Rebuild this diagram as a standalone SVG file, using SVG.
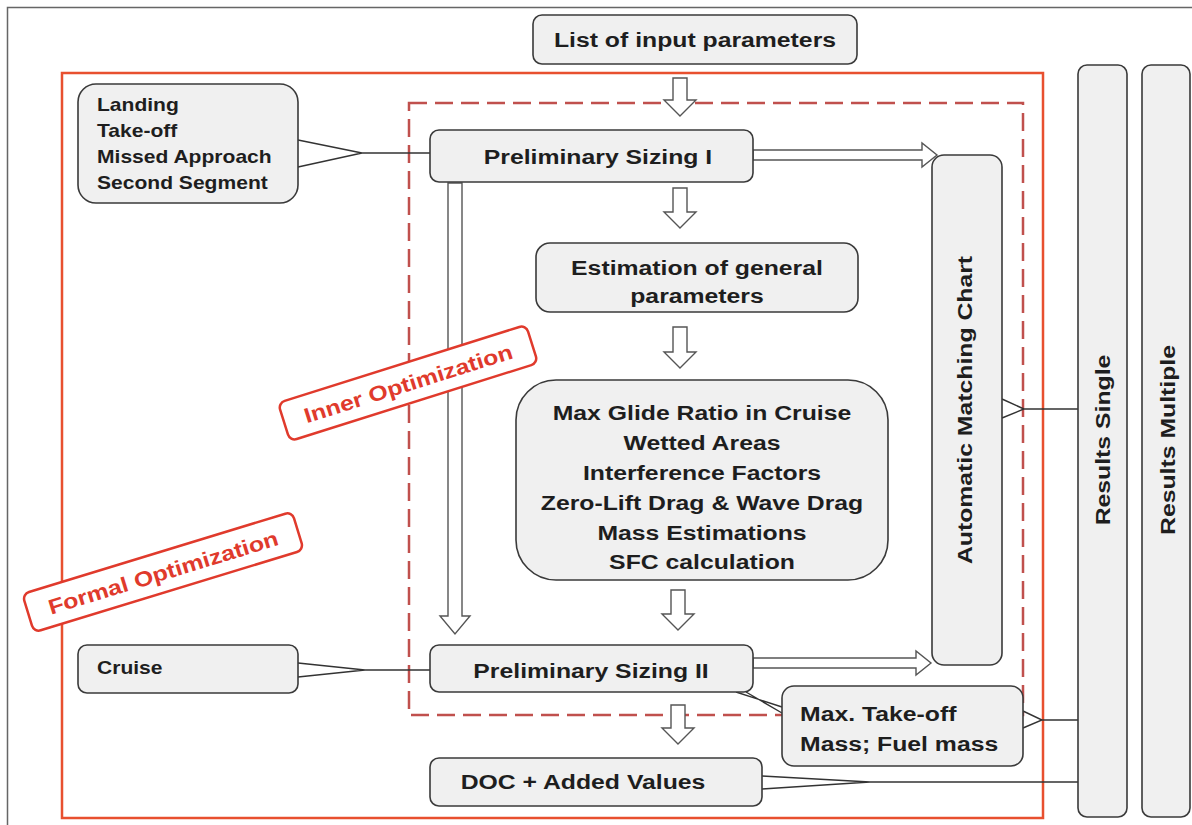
<svg xmlns="http://www.w3.org/2000/svg" width="1192" height="825" viewBox="0 0 1192 825">
<style>
.box{fill:#f0f0f0;stroke:#3a3a3a;stroke-width:1.6}
.t{font-family:"Liberation Sans",Arial,sans-serif;font-weight:bold;font-size:21px;fill:#1e1e1e}
.tl{font-family:"Liberation Sans",Arial,sans-serif;font-weight:bold;font-size:18px;fill:#1e1e1e}
.red{font-family:"Liberation Sans",Arial,sans-serif;font-weight:bold;font-size:21px;fill:#e03a2c}
.harrow{fill:#fff;stroke:#555;stroke-width:1.4}
.con{fill:none;stroke:#333;stroke-width:1.4}
</style>
<rect x="0" y="0" width="1192" height="825" fill="#fff"/>
<rect x="7.5" y="7.5" width="1200" height="840" fill="none" stroke="#666" stroke-width="1.5"/>
<g id="formal-frame">
<rect x="62" y="73" width="981" height="745" fill="none" stroke="#e8502f" stroke-width="2.5"/>
</g>
<g id="inner-frame">
<rect x="409" y="103" width="614" height="612" fill="none" stroke="#c0504d" stroke-width="2.5" stroke-dasharray="18,8"/>
</g>
<g id="connectors">
<path class="harrow" d="M673,78 H687 V100 H696 L680,116 L664,100 H673 Z"/>
<path class="harrow" d="M673,188 H687 V212 H696 L680,228 L664,212 H673 Z"/>
<path class="harrow" d="M673,327 H687 V352 H696 L680,368 L664,352 H673 Z"/>
<path class="harrow" d="M671,590 H685 V614 H694 L678,630 L662,614 H671 Z"/>
<path class="harrow" d="M671,705 H685 V728 H694 L678,744 L662,728 H671 Z"/>
<path class="harrow" d="M448,183 H462 V616 H470 L455,634 L440,616 H448 Z"/>
<path class="harrow" d="M753,150 H922 V143 L937,155 L922,167 V160 H753 Z"/>
<path class="harrow" d="M753,658 H916 V651 L931,663 L916,675 V668 H753 Z"/>
<path class="con" d="M298,140 L362,153 L298,167 M362,153 H452"/>
<path class="con" d="M298,663 L365,670 L298,677 M365,670 H452"/>
<path class="con" d="M1002,399 L1024,409 L1002,418 M1024,409 H1078"/>
<path class="con" d="M1023,711 L1042,720 L1023,728 M1042,720 H1078"/>
<path class="con" d="M762,776 L870,782 L762,789 M870,782 H1078"/>
<path class="con" d="M736,692 L782,707 M746,692 L782,713"/>
</g>
<g id="list-input">
<rect class="box" x="533" y="15" width="324" height="49" rx="9"/>
<text class="t" transform="translate(695,47) scale(1.18,1)" text-anchor="middle">List of input parameters</text>
</g>
<g id="landing">
<rect class="box" x="78" y="84" width="220" height="119" rx="18"/>
<text class="tl" transform="translate(97,111) scale(1.17,1)">Landing</text>
<text class="tl" transform="translate(97,137) scale(1.17,1)">Take-off</text>
<text class="tl" transform="translate(97,163) scale(1.17,1)">Missed Approach</text>
<text class="tl" transform="translate(97,189) scale(1.17,1)">Second Segment</text>
</g>
<g id="prelim-1">
<rect class="box" x="430" y="130" width="323" height="52" rx="9"/>
<text class="t" transform="translate(598,164) scale(1.18,1)" text-anchor="middle">Preliminary Sizing I</text>
</g>
<g id="estimation">
<rect class="box" x="536" y="243" width="322" height="69" rx="14"/>
<text class="t" transform="translate(697,275) scale(1.18,1)" text-anchor="middle">Estimation of general</text>
<text class="t" transform="translate(697,303) scale(1.18,1)" text-anchor="middle">parameters</text>
</g>
<g id="max-glide">
<rect class="box" x="516" y="380" width="372" height="200" rx="40"/>
<text class="t" transform="translate(702,420) scale(1.18,1)" text-anchor="middle">Max Glide Ratio in Cruise</text>
<text class="t" transform="translate(702,450) scale(1.18,1)" text-anchor="middle">Wetted Areas</text>
<text class="t" transform="translate(702,480) scale(1.18,1)" text-anchor="middle">Interference Factors</text>
<text class="t" transform="translate(702,510) scale(1.18,1)" text-anchor="middle">Zero-Lift Drag &amp; Wave Drag</text>
<text class="t" transform="translate(702,540) scale(1.18,1)" text-anchor="middle">Mass Estimations</text>
<text class="t" transform="translate(702,569) scale(1.18,1)" text-anchor="middle">SFC calculation</text>
</g>
<g id="cruise">
<rect class="box" x="78" y="645" width="220" height="48" rx="9"/>
<text class="tl" transform="translate(97,674) scale(1.17,1)">Cruise</text>
</g>
<g id="prelim-2">
<rect class="box" x="430" y="645" width="323" height="47" rx="9"/>
<text class="t" transform="translate(591,678) scale(1.18,1)" text-anchor="middle">Preliminary Sizing II</text>
</g>
<g id="amc">
<rect class="box" x="932" y="155" width="70" height="510" rx="12"/>
<text class="t" transform="translate(972,410) rotate(-90) scale(1.18,1)" text-anchor="middle">Automatic Matching Chart</text>
</g>
<g id="max-takeoff">
<rect class="box" x="782" y="686" width="241" height="80" rx="12"/>
<text class="t" transform="translate(800,721) scale(1.18,1)">Max. Take-off</text>
<text class="t" transform="translate(800,751) scale(1.18,1)">Mass; Fuel mass</text>
</g>
<g id="doc">
<rect class="box" x="430" y="758" width="332" height="48" rx="9"/>
<text class="t" transform="translate(583,789) scale(1.18,1)" text-anchor="middle">DOC + Added Values</text>
</g>
<g id="results-single">
<rect class="box" x="1078" y="65" width="49" height="752" rx="9"/>
<text class="t" transform="translate(1110,440) rotate(-90) scale(1.18,1)" text-anchor="middle">Results Single</text>
</g>
<g id="results-multiple">
<rect class="box" x="1142" y="65" width="48" height="752" rx="9"/>
<text class="t" transform="translate(1175,440) rotate(-90) scale(1.18,1)" text-anchor="middle">Results Multiple</text>
</g>
<g id="inner-label" transform="translate(408,383) rotate(-17.5)">
<rect x="-130" y="-20" width="260" height="40" rx="7" fill="#fff" stroke="#e03a2c" stroke-width="2.5"/>
<text class="red" transform="translate(0,8) scale(1.18,1)" text-anchor="middle">Inner Optimization</text>
</g>
<g id="formal-label" transform="translate(163,572) rotate(-17)">
<rect x="-141" y="-20" width="282" height="40" rx="7" fill="#fff" stroke="#e03a2c" stroke-width="2.5"/>
<text class="red" transform="translate(0,8) scale(1.18,1)" text-anchor="middle">Formal Optimization</text>
</g>
</svg>
